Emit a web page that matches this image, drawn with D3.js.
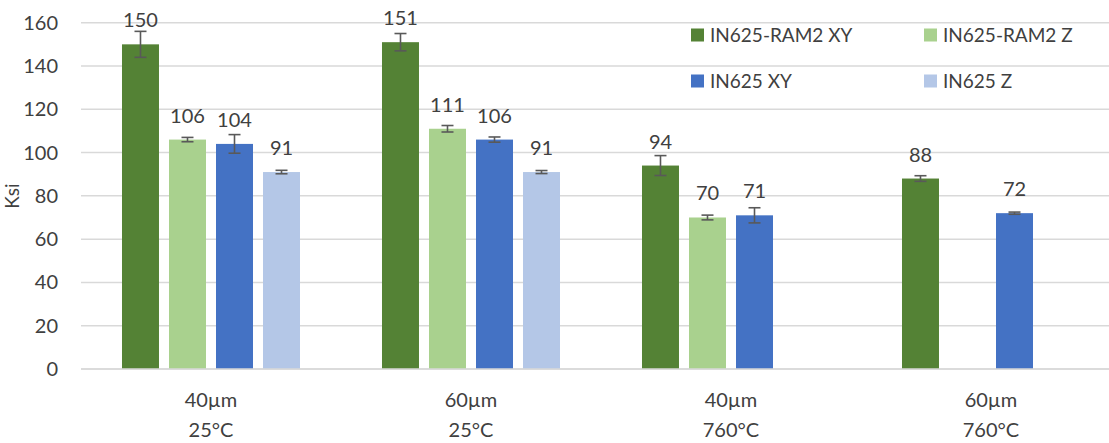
<!DOCTYPE html>
<html>
<head>
<meta charset="utf-8">
<script src="https://cdn.jsdelivr.net/npm/d3@7"></script>
<style>
  body { margin: 0; background: #fff; }
  text { font-family: Lato, "Open Sans", sans-serif; fill: #404040; }
</style>
</head>
<body>
<div id="chart"></div>
<script>
var width = 1109;
var height = 443;

// data
var categories = [["40µm", "25°C"], ["60µm", "25°C"], ["40µm", "760°C"], ["60µm", "760°C"]];
var seriesNames = ["IN625-RAM2 XY", "IN625-RAM2 Z", "IN625 XY", "IN625 Z"];
var seriesColors = ["#548235", "#A9D18E", "#4472C4", "#B4C7E7"];
var ram2XY = [150, 151, 94, 88];
var ram2Z = [106, 111, 70, null];
var in625XY = [104, 106, 71, 72];
var in625Z = [91, 91, null, null];
var errRam2XY = [6, 4, 4.6, 1.3];
var errRam2Z = [1, 1.5, 1.1, null];
var errIn625XY = [4.3, 1.2, 3.5, 0.5];
var errIn625Z = [0.8, 0.7, null, null];
var yTicks = [0, 20, 40, 60, 80, 100, 120, 140, 160];

var values = [ram2XY, ram2Z, in625XY, in625Z];
var errors = [errRam2XY, errRam2Z, errIn625XY, errIn625Z];

var bars = [];
categories.forEach(function (c, ci) {
  seriesNames.forEach(function (s, si) {
    if (values[si][ci] != null)
      bars.push({ cat: ci, series: s, si: si, value: values[si][ci], err: errors[si][ci] });
  });
});

var svg = d3.select("#chart").append("svg")
  .attr("width", width)
  .attr("height", height);

var x0 = d3.scaleBand()
  .domain(d3.range(categories.length))
  .range([81, 1121])
  .padding(0);

var x1 = d3.scaleBand()
  .domain(seriesNames)
  .range([0, x0.bandwidth()])
  .paddingInner(0.213)
  .paddingOuter(0.872);

var y = d3.scaleLinear()
  .domain([0, 160])
  .range([369, 22.7]);

// gridlines
svg.append("g")
  .selectAll("line")
  .data(yTicks)
  .enter()
  .append("line")
  .attr("x1", 81)
  .attr("x2", width)
  .attr("y1", d => y(d))
  .attr("y2", d => y(d))
  .attr("stroke", "#d9d9d9")
  .attr("stroke-width", 1.5);

// y tick labels
svg.append("g")
  .selectAll("text")
  .data(yTicks)
  .enter()
  .append("text")
  .attr("x", 58)
  .attr("y", d => y(d))
  .attr("dy", "0.35em")
  .attr("text-anchor", "end")
  .attr("font-size", "20px")
  .text(d => d);

svg.append("text")
  .attr("transform", "translate(" + 19 + "," + 196 + ") rotate(-90)")
  .attr("text-anchor", "middle")
  .attr("font-size", "19px")
  .text("Ksi");

// bars
svg.append("g")
  .selectAll("rect")
  .data(bars)
  .enter()
  .append("rect")
  .attr("x", d => x0(d.cat) + x1(d.series))
  .attr("width", x1.bandwidth())
  .attr("y", d => y(d.value))
  .attr("height", d => y(0) - y(d.value))
  .attr("fill", d => seriesColors[d.si]);

// error bars
var eb = svg.append("g")
  .selectAll("g")
  .data(bars.filter(d => d.err != null))
  .enter()
  .append("g")
  .attr("stroke", "#595959")
  .attr("stroke-width", 1.6);

eb.append("line")
  .attr("x1", d => x0(d.cat) + x1(d.series) + x1.bandwidth() / 2)
  .attr("x2", d => x0(d.cat) + x1(d.series) + x1.bandwidth() / 2)
  .attr("y1", d => y(d.value + d.err))
  .attr("y2", d => y(d.value - d.err));
eb.append("line")
  .attr("x1", d => x0(d.cat) + x1(d.series) + x1.bandwidth() / 2 - 6)
  .attr("x2", d => x0(d.cat) + x1(d.series) + x1.bandwidth() / 2 + 6)
  .attr("y1", d => y(d.value + d.err))
  .attr("y2", d => y(d.value + d.err));
eb.append("line")
  .attr("x1", d => x0(d.cat) + x1(d.series) + x1.bandwidth() / 2 - 6)
  .attr("x2", d => x0(d.cat) + x1(d.series) + x1.bandwidth() / 2 + 6)
  .attr("y1", d => y(d.value - d.err))
  .attr("y2", d => y(d.value - d.err));

// value labels
svg.append("g")
  .selectAll("text")
  .data(bars)
  .enter()
  .append("text")
  .attr("x", d => x0(d.cat) + x1(d.series) + x1.bandwidth() / 2)
  .attr("y", d => y(d.value) - 17)
  .attr("text-anchor", "middle")
  .attr("font-size", "20px")
  .text(d => d.value);

// x axis line
svg.append("line")
  .attr("x1", 81)
  .attr("x2", width)
  .attr("y1", y(0))
  .attr("y2", y(0))
  .attr("stroke", "#d9d9d9")
  .attr("stroke-width", 1.5);

// category labels
var cl = svg.append("g")
  .selectAll("text")
  .data(categories)
  .enter()
  .append("text")
  .attr("text-anchor", "middle")
  .attr("font-size", "20px");
cl.append("tspan")
  .attr("x", (d, i) => x0(i) + x0.bandwidth() / 2)
  .attr("y", 407)
  .text(d => d[0]);
cl.append("tspan")
  .attr("x", (d, i) => x0(i) + x0.bandwidth() / 2)
  .attr("y", 437)
  .text(d => d[1]);

// legend
var legend = svg.append("g")
  .selectAll("g")
  .data(seriesNames)
  .enter()
  .append("g")
  .attr("transform", (d, i) => "translate(" + (691 + (i % 2) * 233) + "," + (35 + Math.floor(i / 2) * 46) + ")");
legend.append("rect")
  .attr("x", 0)
  .attr("y", -6.5)
  .attr("width", 13)
  .attr("height", 13)
  .attr("fill", (d, i) => seriesColors[i]);
legend.append("text")
  .attr("x", 19)
  .attr("dy", "0.35em")
  .attr("font-size", "19px")
  .text(d => d);
</script>
</body>
</html>
